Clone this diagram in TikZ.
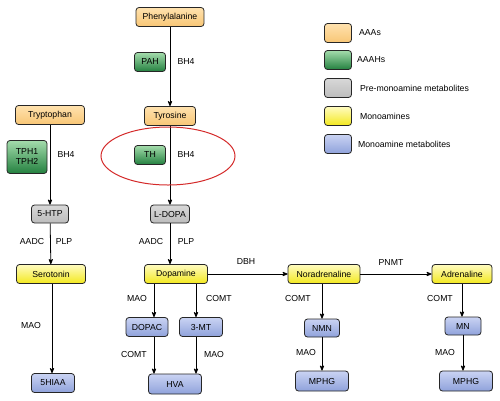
\documentclass[tikz,border=0pt]{standalone}
\usepackage{fontspec}
\setmainfont{Liberation Sans}
\usepackage{tikz}
\usetikzlibrary{shapes,arrows,calc,positioning,shapes.geometric}
\definecolor{aaatop}{HTML}{FFE2AE}
\definecolor{aaabot}{HTML}{F8C676}
\definecolor{hyltop}{HTML}{A4DCAC}
\definecolor{hylbot}{HTML}{23803F}
\definecolor{pretop}{HTML}{D8D8D8}
\definecolor{prebot}{HTML}{BCBCBC}
\definecolor{montop}{HTML}{FFFCC0}
\definecolor{monbot}{HTML}{F3E81E}
\definecolor{mettop}{HTML}{CAD3F3}
\definecolor{metbot}{HTML}{8FA2DB}
\definecolor{ringred}{HTML}{D42A2A}
\tikzset{
>=stealth',
  box/.style={
    rectangle,
    rounded corners=3pt,
    draw=black!85, line width=0.8pt,
    inner sep=0pt,
    minimum height=19pt,
    text centered},
  aaa/.style={box, top color=aaatop, bottom color=aaabot},
  hyl/.style={box, top color=hyltop, bottom color=hylbot},
  pre/.style={box, top color=pretop, bottom color=prebot},
  mon/.style={box, top color=montop, bottom color=monbot},
  met/.style={box, top color=mettop, bottom color=metbot},
  line/.style={draw, line width=0.8pt, ->},
}

\begin{document}
\begin{tikzpicture}[
    x=1pt, y=-1pt,
    font=\fontsize{8.7}{10}\selectfont,
    legend/.style={box, minimum width=27pt, minimum height=19pt},
    lbl/.style={inner sep=0pt},
    ring/.style={draw=ringred, line width=1pt}
    ]
    \useasboundingbox (0,0) rectangle (500,400);

    % Aromatic amino acids
    \node[aaa, minimum width=68pt] (phe) at (170,17) {Phenylalanine};
    \node[aaa, minimum width=51pt] (tyr) at (170,116) {Tyrosine};
    \node[aaa, minimum width=69pt] (trp) at (50,115) {Tryptophan};

    % Hydroxylases
    \node[hyl, minimum width=31pt] (pah) at (150,62) {PAH};
    \node[hyl, minimum width=31pt] (th) at (150,155) {TH};
    \node[hyl, minimum width=40pt, minimum height=33pt, align=center] (tph) at (27,157) {TPH1\\TPH2};

    % Pre-monoamines
    \node[pre, minimum width=37pt, minimum height=18pt] (htp) at (50,214) {5-HTP};
    \node[pre, minimum width=39pt, minimum height=18pt] (ldopa) at (170,214) {L-DOPA};

    % Monoamines
    \node[mon, minimum width=69pt] (ser) at (51,274) {Serotonin};
    \node[mon, minimum width=63pt] (dopa) at (176,274) {Dopamine};
    \node[mon, minimum width=72pt] (nor) at (324,274) {Noradrenaline};
    \node[mon, minimum width=60pt] (adr) at (462,274) {Adrenaline};

    % Metabolites
    \node[met, minimum width=43pt] (hiaa) at (53,383) {5HIAA};
    \node[met, minimum width=42pt] (dopac) at (147,327) {DOPAC};
    \node[met, minimum width=43pt] (mt) at (201,327) {3-MT};
    \node[met, minimum width=53pt, minimum height=20pt] (hva) at (175,384) {HVA};
    \node[met, minimum width=35pt, minimum height=18pt] (nmn) at (322,328) {NMN};
    \node[met, minimum width=53pt, minimum height=20pt] (mphga) at (322,381) {MPHG};
    \node[met, minimum width=36pt, minimum height=18pt] (mn) at (463,326) {MN};
    \node[met, minimum width=53pt, minimum height=20pt] (mphgb) at (466,381) {MPHG};

    % Arrows
    \draw[line] (phe) -- (tyr);
    \draw[line] (tyr) -- (ldopa);
    \draw[line] (trp) -- (htp);
    \draw[line] (htp) -- (ser);
    \draw[line] (ldopa) -- (ldopa |- dopa.north);
    \draw[line] ([xshift=1pt]ser.south) -- ([xshift=1pt]ser.south |- hiaa.north);
    \draw[line] ([xshift=7pt]dopac.north |- dopa.south) -- ([xshift=7pt]dopac.north);
    \draw[line] ([xshift=-5pt]mt.north |- dopa.south) -- ([xshift=-5pt]mt.north);
    \draw[line] ([xshift=7pt]dopac.south) -- ([xshift=7pt]dopac.south |- hva.north);
    \draw[line] ([xshift=-5pt]mt.south) -- ([xshift=-5pt]mt.south |- hva.north);
    \draw[line] (dopa) -- (nor);
    \draw[line] (nor) -- (adr);
    \draw[line] (nmn.north |- nor.south) -- (nmn.north);
    \draw[line] (nmn) -- (nmn |- mphga.north);
    \draw[line] (adr.south) -- (adr.south |- mn.north);
    \draw[line] (mn) -- (mn |- mphgb.north);

    % Cofactors and enzymes
    \node[lbl] (bha) at (186,62) {BH4};
    \node[lbl] (bhb) at (186,155) {BH4};
    \node[lbl] (bhc) at (66,155) {BH4};
    \node[lbl] (aadca) at (32,241) {AADC};
    \node[lbl] (plpa) at (64,241) {PLP};
    \node[lbl] (aadcb) at (151,241) {AADC};
    \node[lbl] (plpb) at (186,241) {PLP};
    \node[lbl] (maoa) at (31,325) {MAO};
    \node[lbl] (maob) at (137,298) {MAO};
    \node[lbl] (comta) at (219,298) {COMT};
    \node[lbl] (comtb) at (134,354) {COMT};
    \node[lbl] (maoc) at (214,354) {MAO};
    \node[lbl] (dbh) at (246,261) {DBH};
    \node[lbl] (pnmt) at (391,262) {PNMT};
    \node[lbl] (comtc) at (298,298) {COMT};
    \node[lbl] (maod) at (306,352) {MAO};
    \node[lbl] (comtd) at (440,298) {COMT};
    \node[lbl] (maoe) at (445,352) {MAO};

    %ring
    \draw[ring] (168,156) ellipse (67 and 29);

    % Legend
    \node[legend, aaa] (kaaa) at (338,33) {};
    \node[legend, hyl] (khyl) at (338,60) {};
    \node[legend, pre] (kpre) at (338,88) {};
    \node[legend, mon] (kmon) at (338,116) {};
    \node[legend, met] (kmet) at (338,144) {};
    \node[lbl, right=7pt of kaaa] {AAAs};
    \node[lbl, right=5pt of khyl] {AAAHs};
    \node[lbl, right=8pt of kpre] {Pre-monoamine metabolites};
    \node[lbl, right=8pt of kmon] {Monoamines};
    \node[lbl, right=6pt of kmet] {Monoamine metabolites};

\end{tikzpicture}
\end{document}
